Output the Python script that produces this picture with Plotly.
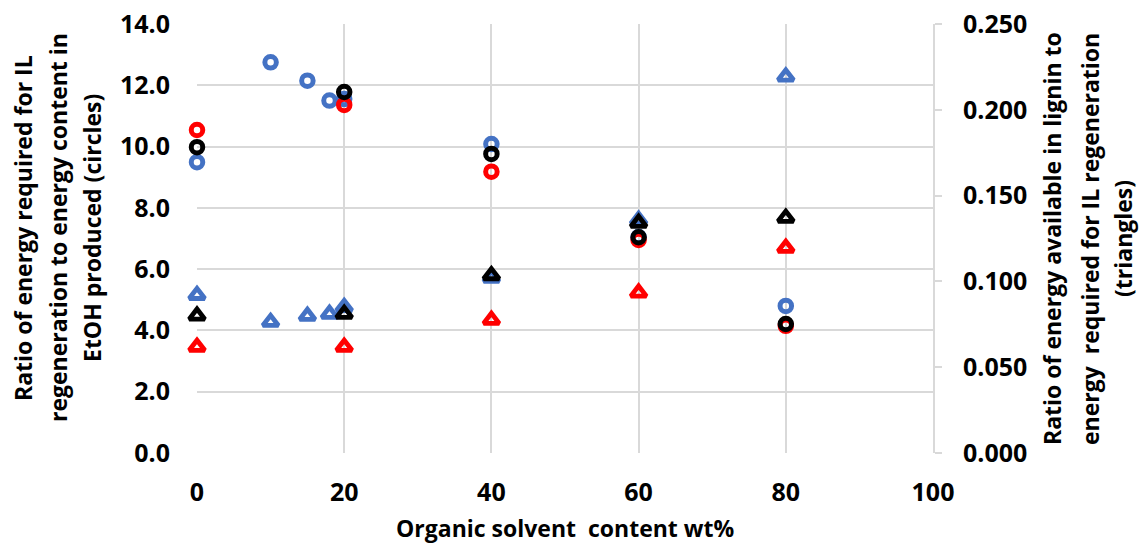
import plotly.graph_objects as go

# Organic solvent content (wt%) for each series
x_blue = [0, 10, 15, 18, 20, 40, 60, 80]
x_red = [0, 20, 40, 60, 80]
x_black = [0, 20, 40, 60, 80]

# Ratio of IL regeneration energy to EtOH energy content (circles, left axis)
circ_blue = [9.49, 12.75, 12.15, 11.50, 11.55, 10.08, 7.05, 4.80]
circ_red = [10.54, 11.36, 9.18, 6.95, 4.15]
circ_black = [9.98, 11.78, 9.76, 7.04, 4.21]

# Ratio of lignin energy to IL regeneration energy (triangles, right axis)
tri_blue = [0.092, 0.0763, 0.0798, 0.081, 0.085, 0.102, 0.1358, 0.2193]
tri_red = [0.0618, 0.0618, 0.0775, 0.0934, 0.1195]
tri_black = [0.080, 0.081, 0.1035, 0.134, 0.137]

BLUE = "#4472C4"
RED = "#FF0000"
BLACK = "#000000"
GRID = "#D9D9D9"
FONT = "Open Sans"

fig = go.Figure()

def circles(x, y, color):
    fig.add_trace(go.Scatter(
        x=x, y=y, mode="markers", yaxis="y", showlegend=False,
        cliponaxis=False,
        marker=dict(symbol="circle-open", size=11.5, color=color,
                    line=dict(width=5, color=color))))

def triangles(x, y, color):
    fig.add_trace(go.Scatter(
        x=x, y=y, mode="markers", yaxis="y2", showlegend=False,
        cliponaxis=False,
        marker=dict(symbol="triangle-up-open", size=13.5, color=color,
                    line=dict(width=4.8, color=color))))

circles(x_blue, circ_blue, BLUE)
circles(x_red, circ_red, RED)
circles(x_black, circ_black, BLACK)
triangles(x_blue, tri_blue, BLUE)
triangles(x_red, tri_red, RED)
triangles(x_black, tri_black, BLACK)

tick_font = dict(family=FONT, size=25, color="black", weight=700)
title_font = dict(family=FONT, size=23, color="black", weight=700)
xtitle_font = dict(family=FONT, size=23, color="black", weight=700)

L, R, T, B = 197, 933, 24, 453
W, H = 1141, 547

fig.update_layout(
    width=W, height=H,
    margin=dict(l=L, r=W - R, t=T, b=H - B, pad=0, autoexpand=False),
    paper_bgcolor="white", plot_bgcolor="white",
    xaxis=dict(range=[0, 100], tickvals=[0, 20, 40, 60, 80, 100],
               showgrid=True, gridcolor=GRID, gridwidth=2,
               zeroline=False, showline=False, ticks="",
               automargin=False,
               tickfont=tick_font, ticklabelstandoff=22),
    yaxis=dict(range=[0, 14], tickvals=[0, 2, 4, 6, 8, 10, 12, 14],
               tickformat=".1f", automargin=False,
               showgrid=True, gridcolor=GRID, gridwidth=2,
               zeroline=False, showline=False, ticks="",
               tickfont=tick_font, ticklabelstandoff=26),
    yaxis2=dict(range=[0, 0.25], tickvals=[0, 0.05, 0.10, 0.15, 0.20, 0.25],
                tickformat=".3f", overlaying="y", side="right",
                automargin=False,
                showgrid=False, zeroline=False,
                showline=True, linecolor=GRID, linewidth=2,
                ticks="outside", ticklen=7, tickwidth=2, tickcolor=GRID,
                tickfont=tick_font, ticklabelstandoff=16),
)

def px_x(p):
    return (p - L) / (R - L)

def px_y(p):
    return (B - p) / (B - T)

left_lines = ["Ratio of energy required for IL",
              "regeneration to energy content in",
              "EtOH produced (circles)"]
right_lines = ["Ratio of energy available in lignin to",
               "energy  required for IL regeneration",
               "(triangles)"]

for text, xp in zip(left_lines, [23, 58, 92]):
    fig.add_annotation(text=text, xref="paper", yref="paper",
                       x=px_x(xp), y=px_y(228), textangle=-90,
                       showarrow=False, font=title_font,
                       xanchor="center", yanchor="middle")
for text, xp in zip(right_lines, [1052, 1090, 1123]):
    fig.add_annotation(text=text, xref="paper", yref="paper",
                       x=px_x(xp), y=px_y(239), textangle=-90,
                       showarrow=False, font=title_font,
                       xanchor="center", yanchor="middle")

fig.add_annotation(text="Organic solvent  content wt%", xref="paper",
                   yref="paper", x=px_x(565), y=px_y(528),
                   showarrow=False, font=xtitle_font,
                   xanchor="center", yanchor="middle")

fig.write_html("out.html")
